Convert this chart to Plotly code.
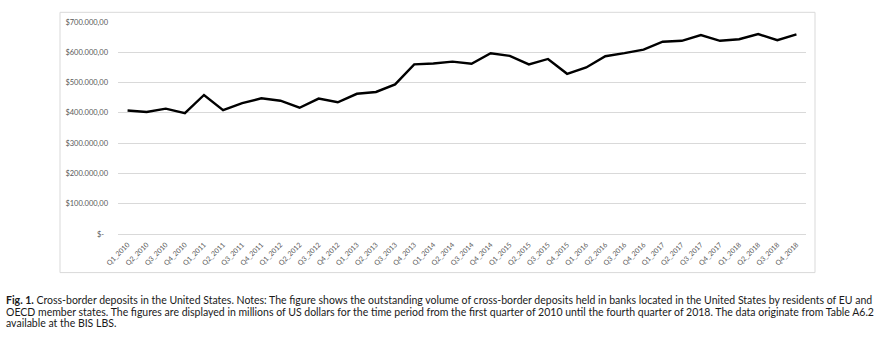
import plotly.graph_objects as go

quarters = [f"Q{q}_{y}" for y in range(2010, 2019) for q in range(1, 5)]
deposits = [
    407700, 403000, 414000, 399000, 459000, 409000, 432000, 448000,
    440000, 417000, 447000, 435000, 463000, 469000, 494000, 560000,
    563000, 569000, 562000, 597000, 588000, 560000, 578000, 529000,
    550000, 587000, 597000, 609000, 635000, 638000, 657000, 638000,
    643000, 660000, 640000, 659000,
]
y_ticks = [0, 100000, 200000, 300000, 400000, 500000, 600000, 700000]
y_ticktext = ["$-  ", "$100.000,00", "$200.000,00", "$300.000,00",
              "$400.000,00", "$500.000,00", "$600.000,00", "$700.000,00"]

caption_lines = [
    "<b>Fig. 1.</b> Cross-border deposits in the United States. Notes: The figure shows the outstanding volume of cross-border deposits held in banks located in the United States by residents of EU and",
    "OECD member states. The figures are displayed in millions of US dollars for the time period from the first quarter of 2010 until the fourth quarter of 2018. The data originate from Table A6.2",
    "available at the BIS LBS.",
]

W, H = 877, 341
L, R, T, B = 118, 806, 21.7, 234.3

def px_x(p):
    return (p - L) / (R - L)

def px_y(p):
    return (B - p) / (B - T)

fig = go.Figure()
fig.add_trace(go.Scatter(
    x=quarters, y=deposits, mode="lines",
    line=dict(color="#000000", width=2.4),
    showlegend=False, hoverinfo="skip",
))

fig.update_layout(
    width=W, height=H,
    margin=dict(l=L, r=W - R, t=T, b=H - B),
    paper_bgcolor="white", plot_bgcolor="white",
    font=dict(family="Lato", color="#595959"),
    xaxis=dict(
        type="category", range=[-0.5, len(quarters) - 0.5],
        showgrid=False, zeroline=False,
        showline=True, linecolor="#d9d9d9", linewidth=1,
        tickangle=-45, tickfont=dict(size=7, color="#595959"),
        ticks="", ticklabelstandoff=3,
    ),
    yaxis=dict(
        range=[0, 700000], tickvals=y_ticks, ticktext=y_ticktext,
        showgrid=True, gridcolor="#d9d9d9", gridwidth=1,
        zeroline=False, showline=False, ticks="",
        tickfont=dict(size=7.5, color="#595959"), ticklabelstandoff=9,
    ),
    shapes=[
        dict(type="rect", xref="paper", yref="paper",
             x0=px_x(60), x1=px_x(815), y0=px_y(273), y1=px_y(12),
             line=dict(color="#d9d9d9", width=1), layer="below"),
    ],
)

for line, cy in zip(caption_lines, [300.5, 312.5, 324]):
    fig.add_annotation(
        text=line, xref="paper", yref="paper",
        x=px_x(4), y=px_y(cy), xanchor="left", yanchor="middle",
        showarrow=False, align="left",
        font=dict(family="Lato", size=10.5, color="#1a1a1a"),
    )

fig.write_html("out.html")
